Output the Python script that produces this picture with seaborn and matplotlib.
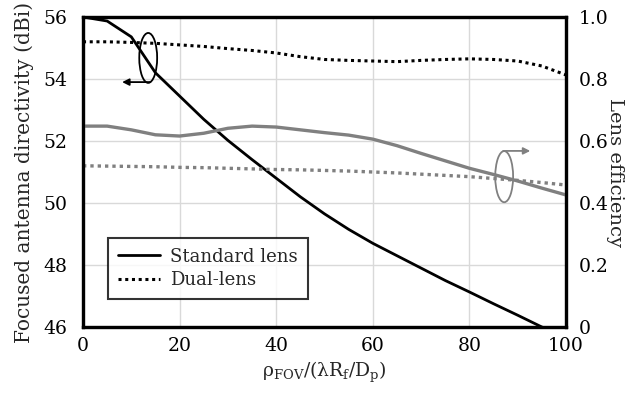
import numpy as np
import pandas as pd
import matplotlib
matplotlib.use("Agg")
import matplotlib.pyplot as plt
import seaborn as sns
from matplotlib.patches import Ellipse

# ---- data ----
x = [0, 5, 10, 15, 20, 25, 30, 35, 40, 45, 50, 55, 60, 65, 70, 75, 80, 85, 90, 95, 100]
std_directivity = [56.0, 55.87, 55.36, 54.2, 53.45, 52.7, 52.02, 51.4, 50.8, 50.2, 49.65,
                   49.15, 48.7, 48.3, 47.9, 47.5, 47.13, 46.75, 46.38, 46.0, 45.65]
dual_directivity = [55.2, 55.2, 55.18, 55.15, 55.1, 55.05, 54.98, 54.92, 54.84, 54.72, 54.63,
                    54.6, 54.58, 54.56, 54.6, 54.63, 54.65, 54.63, 54.58, 54.42, 54.13]
std_efficiency = [0.648, 0.648, 0.636, 0.62, 0.616, 0.625, 0.641, 0.648, 0.645, 0.636, 0.627,
                  0.619, 0.606, 0.585, 0.56, 0.536, 0.512, 0.492, 0.471, 0.448, 0.426]
dual_efficiency = [0.52, 0.519, 0.518, 0.517, 0.515, 0.514, 0.512, 0.51, 0.508, 0.507, 0.505,
                   0.503, 0.5, 0.497, 0.493, 0.489, 0.485, 0.479, 0.473, 0.466, 0.458]

left_ticks = [46, 48, 50, 52, 54, 56]
right_ticks = [0, 0.2, 0.4, 0.6, 0.8, 1.0]
right_ticklabels = ["0", "0.2", "0.4", "0.6", "0.8", "1.0"]
x_ticks = [0, 20, 40, 60, 80, 100]
legend_labels = ["Standard lens", "Dual-lens"]

sns.set_theme(style="white")
plt.rcParams["font.family"] = ["DejaVu Serif"]
plt.rcParams["mathtext.fontset"] = "dejavuserif"

df = pd.DataFrame({"x": x, "std_d": std_directivity, "dual_d": dual_directivity,
                   "std_e": std_efficiency, "dual_e": dual_efficiency})

fig = plt.figure(figsize=(6.36, 3.94), dpi=100)
ax = fig.add_axes([83 / 636, 1 - 327 / 394, (566 - 83) / 636, (327 - 17) / 394])
ax2 = ax.twinx()

gray = "#808080"
dot = (0, (1, 1.2))

sns.lineplot(data=df, x="x", y="std_d", ax=ax, color="black", lw=2.0, label=legend_labels[0])
sns.lineplot(data=df, x="x", y="dual_d", ax=ax, color="black", lw=2.2, linestyle=dot,
             label=legend_labels[1])
sns.lineplot(data=df, x="x", y="std_e", ax=ax2, color=gray, lw=2.4, legend=False)
sns.lineplot(data=df, x="x", y="dual_e", ax=ax2, color=gray, lw=2.4, linestyle=dot, legend=False)

ax.set_xlim(0, 100)
ax.set_ylim(46, 56)
ax2.set_ylim(0, 1.0)
ax.set_xticks(x_ticks)
ax.set_yticks(left_ticks)
ax2.set_yticks(right_ticks)
ax2.set_yticklabels(right_ticklabels)

ax.grid(True, color="#d9d9d9", lw=1.0)
ax2.grid(False)
ax.set_axisbelow(True)

fs = 13.5
ax.tick_params(axis="both", length=0, labelsize=fs, colors="black")
ax.tick_params(axis="y", pad=11)
ax.tick_params(axis="x", pad=7)
ax2.tick_params(axis="y", length=0, labelsize=fs, colors="black", pad=9)

ax.set_xlabel("ρ$_{\\mathrm{FOV}}$/(λR$_{\\mathrm{f}}$/D$_{\\mathrm{p}}$)", fontsize=fs, labelpad=4)
ax.set_ylabel("Focused antenna directivity (dBi)", fontsize=14.5, labelpad=7)
ax2.set_ylabel("Lens efficiency", fontsize=14, rotation=270, labelpad=11)

for a in (ax, ax2):
    for s in a.spines.values():
        s.set_color("black")
        s.set_linewidth(2.3)

# annotations: ellipses with arrows
e1 = Ellipse((13.5, 54.68), 3.7, 1.61, fill=False, edgecolor="black", lw=1.3, zorder=5)
ax.add_patch(e1)
ax.annotate("", xy=(8.1, 53.9), xytext=(13.9, 53.9),
            arrowprops=dict(arrowstyle="-|>", color="black", lw=1.3, mutation_scale=10,
                            shrinkA=0, shrinkB=0))
e2 = Ellipse((87.2, 50.85), 3.7, 1.65, fill=False, edgecolor=gray, lw=1.3, zorder=5)
ax.add_patch(e2)
ax.annotate("", xy=(92.6, 51.68), xytext=(87.0, 51.68),
            arrowprops=dict(arrowstyle="-|>", color=gray, lw=1.3, mutation_scale=10,
                            shrinkA=0, shrinkB=0))

leg = ax.legend(loc="lower left", bbox_to_anchor=(0.052, 0.09), borderaxespad=0,
                fontsize=13, frameon=True, fancybox=False, edgecolor="black",
                handlelength=2.3, handletextpad=0.6, borderpad=0.55, labelspacing=0.3)
leg.get_frame().set_linewidth(1.5)
leg.set_zorder(10)

fig.savefig("out.png", dpi=100)
